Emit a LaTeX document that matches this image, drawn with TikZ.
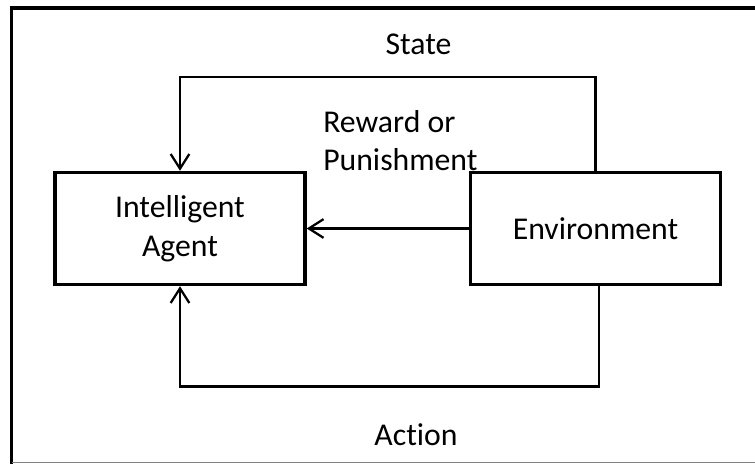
\documentclass[tikz,border=0pt]{standalone}
\usepackage{fontspec}
\setmainfont{Carlito}[Ligatures={NoCommon,NoRare,NoDiscretionary}]
\usetikzlibrary{arrows.meta,calc}
\tikzset{
  boxnode/.style={draw, line width=2.6pt, minimum width=250*0.75pt, minimum height=112*0.75pt, inner sep=0pt, align=center, font=\fontsize{23.8}{28.9}\selectfont},
  lbl/.style={inner sep=0pt, font=\fontsize{23.8}{28.9}\selectfont},
  conn/.style={line width=1.7pt, -{Straight Barb[length=11pt,width=14pt,line width=1.7pt]}},
  frameline/.style={line width=2.3pt}
}
\begin{document}
\begin{tikzpicture}[x=0.75pt,y=-0.75pt]
\useasboundingbox (0,0) rectangle (755,463);
\clip (0,0) rectangle (755,463);
\fill[white] (0,0) rectangle (755,463);
% outer frame (cropped at right and bottom)
\draw[frameline] (11.5,470) -- (11.5,8) -- (770,8);
\draw[gray, line width=1pt] (11.5,462.4) -- (770,462.4);
% boxes
\node[boxnode] (agent) at (180,228.5) {Intelligent\\Agent};
\node[boxnode] (env) at (595.5,228.5) {Environment};
% helper coordinates
\coordinate (statetop) at (400,77);
\coordinate (actbot) at (400,386.5);
% connectors
\draw[conn] (env.north) |- (statetop) -| (agent.north);
\draw[conn] (env.west) -- (agent.east);
\draw[conn] ($(env.south)+(3.5,0)$) |- (actbot) -| (agent.south);
% labels
\node[lbl, anchor=base] (state) at (418.5,55) {State};
\node[lbl, anchor=base west] (rew1) at (323,133) {Reward or};
\node[lbl, anchor=base west] (rew2) at (323,171) {Punishment};
\node[lbl, anchor=base] (action) at (416,445) {Action};
\end{tikzpicture}
\end{document}
